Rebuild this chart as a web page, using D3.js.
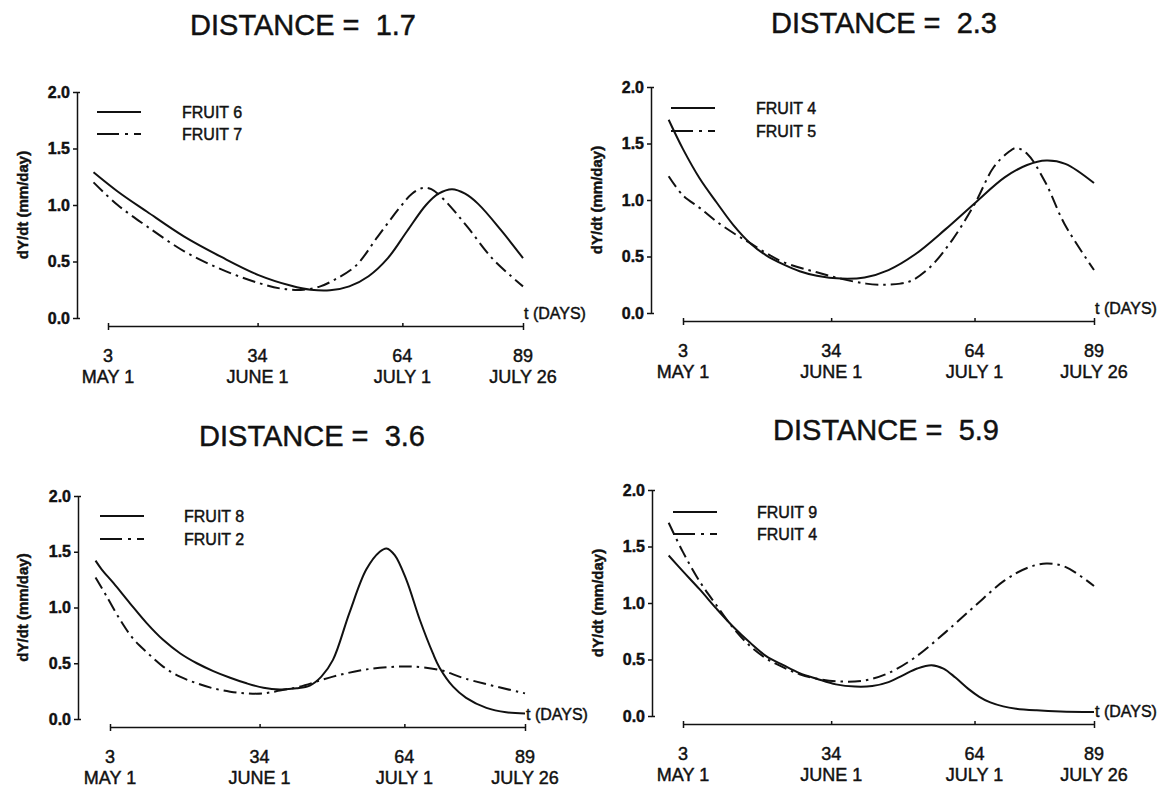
<!DOCTYPE html>
<html>
<head>
<meta charset="utf-8">
<script src="https://cdn.jsdelivr.net/npm/d3@7"></script>
<style>
  body { margin: 0; background: #fff; }
  text { font-family: "Liberation Sans", Arial, sans-serif; fill: #111; stroke: #111; stroke-width: 0.45px; }
</style>
</head>
<body>
<div id="chart"></div>
<script>
// tick values and labels
var dayTicks = [3, 34, 64, 89];
var dateLabels = ["MAY 1", "JUNE 1", "JULY 1", "JULY 26"];
var yTicks = [0, 0.5, 1.0, 1.5, 2.0];
var titles = ["DISTANCE =  1.7", "DISTANCE =  2.3", "DISTANCE =  3.6", "DISTANCE =  5.9"];

// growth rate curves, [day, dY/dt]
var fruit6 = [[0,1.29],[5,1.12],[11.1,0.94],[18.8,0.72],[26.5,0.54],[34.2,0.38],[41,0.285],[45,0.25],[49,0.245],
  [53,0.28],[57,0.37],[61,0.53],[65,0.77],[68.9,1.00],[71.5,1.10],[74.3,1.14],[77,1.10],[79.7,1.01],[84.4,0.78],[89,0.53]];
var fruit7 = [[0,1.20],[5,1.00],[11.1,0.81],[18.8,0.59],[26.5,0.43],[34.2,0.31],[38.9,0.26],[43.5,0.25],[47,0.28],
  [50,0.34],[54.3,0.46],[58.9,0.72],[63.5,0.98],[66,1.10],[68.2,1.15],[70,1.14],[72.8,1.04],[77.4,0.81],[82.8,0.52],[89,0.28]];
var fruit4 = [[0,1.71],[3,1.45],[6.5,1.19],[10,0.98],[13.5,0.78],[17,0.62],[20.4,0.51],[24,0.43],[27.4,0.37],
  [31,0.33],[36,0.305],[41,0.315],[46,0.38],[51.6,0.52],[57.9,0.74],[64,0.97],[70.3,1.20],[75,1.31],[79,1.35],
  [83,1.32],[89,1.15]];
var fruit5 = [[0,1.21],[3,1.04],[6.5,0.93],[10,0.81],[14.2,0.69],[17,0.62],[20.4,0.53],[24,0.45],[31,0.36],
  [36.4,0.30],[41.3,0.26],[45,0.25],[48.5,0.26],[51,0.29],[54.8,0.41],[59.4,0.65],[64.1,0.97],[68,1.29],
  [71,1.42],[72.7,1.46],[75,1.41],[78.9,1.15],[82.8,0.79],[89,0.38]];
var fruit8 = [[0,1.42],[1.3,1.34],[3.7,1.22],[7.1,1.04],[10.6,0.86],[14,0.71],[17.5,0.59],[21,0.50],[24.4,0.43],
  [27.9,0.37],[31.3,0.32],[34.8,0.28],[38.2,0.265],[41.7,0.275],[44.4,0.30],[46.8,0.38],[49.2,0.53],[52.6,0.95],
  [56.1,1.34],[58.9,1.50],[60.3,1.53],[62,1.47],[64.4,1.25],[67.2,0.89],[69.9,0.59],[71.3,0.46],[74.1,0.29],
  [76.8,0.19],[81,0.10],[85.1,0.06],[89,0.05]];
var fruit2 = [[0,1.27],[2.3,1.10],[5.1,0.89],[7.8,0.72],[10.6,0.60],[14,0.47],[17.5,0.38],[21,0.32],[24.4,0.275],
  [27.9,0.245],[31.3,0.23],[34.8,0.23],[38.2,0.255],[42.3,0.29],[49.2,0.38],[56.2,0.445],[63,0.47],[66,0.47],
  [71.3,0.44],[76.8,0.36],[89,0.23]];
var fruit9 = [[0,1.42],[3,1.28],[6.5,1.12],[10,0.95],[13.5,0.79],[17,0.65],[20.4,0.53],[24,0.45],[27.4,0.38],
  [31,0.33],[35,0.28],[39,0.26],[42.6,0.265],[46,0.30],[49,0.36],[52,0.42],[55,0.45],[57.5,0.42],[60,0.34],
  [62.7,0.24],[65,0.17],[67.3,0.12],[70,0.085],[72.7,0.065],[77,0.05],[82,0.04],[89,0.035]];

var panels = [
  {title: titles[0], solid: fruit6, dash: fruit7, names: ["FRUIT 6", "FRUIT 7"],
   ax: 77, x0: 108, x1: 523, y0: 318, y1: 92, xa: 326, tx: 303, ty: 35, lx: 22, leg: [97, 141, 182, 112, 134]},
  {title: titles[1], solid: fruit4, dash: fruit5, names: ["FRUIT 4", "FRUIT 5"],
   ax: 651, x0: 683, x1: 1094, y0: 313, y1: 87, xa: 321, tx: 884, ty: 33, lx: 596, leg: [671, 715, 756, 108, 131]},
  {title: titles[2], solid: fruit8, dash: fruit2, names: ["FRUIT 8", "FRUIT 2"],
   ax: 78, x0: 110, x1: 525, y0: 719, y1: 496, xa: 727, tx: 312, ty: 446, lx: 22, leg: [100, 144, 184, 516, 539]},
  {title: titles[3], solid: fruit9, dash: fruit4, names: ["FRUIT 9", "FRUIT 4"],
   ax: 652, x0: 683, x1: 1094, y0: 716, y1: 490, xa: 724, tx: 886, ty: 440, lx: 597, leg: [673, 717, 757, 512, 534]}
];

var dashCurve = "13,5,2.5,5";
var dashLegend = "22,6,3,6";

var svg = d3.select("#chart")
  .append("svg")
    .attr("width", 1166)
    .attr("height", 787);

panels.forEach(function(p) {
  var x = d3.scaleLinear().domain([3, 89]).range([p.x0, p.x1]);
  var y = d3.scaleLinear().domain([0, 2]).range([p.y0, p.y1]);

  // title
  svg.append("text")
    .attr("x", p.tx).attr("y", p.ty)
    .attr("text-anchor", "middle")
    .attr("font-size", 29)
    .style("white-space", "pre")
    .text(p.title);

  // y axis
  var gy = svg.append("g")
    .attr("transform", "translate(" + p.ax + ",0)")
    .call(d3.axisLeft(y).tickValues(yTicks).tickFormat(d3.format(".1f"))
      .tickSizeInner(4).tickSizeOuter(-3).tickPadding(3));
  gy.attr("font-family", null).attr("font-size", null);
  gy.selectAll("path, line").attr("stroke", "#111").attr("stroke-width", 1.5);
  gy.selectAll("text").attr("font-size", 16).attr("font-weight", "bold");

  svg.append("text")
    .attr("transform", "translate(" + p.lx + "," + (p.y0 + p.y1) / 2 + ") rotate(-90)")
    .attr("text-anchor", "middle")
    .attr("dominant-baseline", "central")
    .attr("font-size", 15)
    .attr("font-weight", "bold")
    .text("dY/dt (mm/day)");

  // x axis, offset below the plot
  var gx = svg.append("g")
    .attr("transform", "translate(0," + p.xa + ")")
    .call(d3.axisBottom(x).tickValues(dayTicks).tickFormat("")
      .tickSizeInner(-3).tickSizeOuter(4));
  gx.selectAll("path, line").attr("stroke", "#111").attr("stroke-width", 1.5);

  svg.append("g").selectAll("text.day")
    .data(dayTicks)
    .enter()
    .append("text")
      .attr("x", function(d) { return x(d); })
      .attr("y", p.xa + 36)
      .attr("text-anchor", "middle")
      .attr("font-size", 18)
      .text(function(d) { return d; });

  svg.append("g").selectAll("text.date")
    .data(dateLabels)
    .enter()
    .append("text")
      .attr("x", function(d, i) { return x(dayTicks[i]); })
      .attr("y", p.xa + 57)
      .attr("text-anchor", "middle")
      .attr("font-size", 18)
      .text(function(d) { return d; });

  svg.append("text")
    .attr("x", x(89) + 1).attr("y", p.y0 + 1)
    .attr("font-size", 16)
    .text("t (DAYS)");

  // curves
  var line = d3.line()
    .x(function(d) { return x(d[0]); })
    .y(function(d) { return y(d[1]); })
    .curve(d3.curveCatmullRom.alpha(0.5));

  svg.append("path")
    .datum(p.solid)
    .attr("d", line)
    .attr("fill", "none")
    .attr("stroke", "#111")
    .attr("stroke-width", 2);

  svg.append("path")
    .datum(p.dash)
    .attr("d", line)
    .attr("fill", "none")
    .attr("stroke", "#111")
    .attr("stroke-width", 2)
    .attr("stroke-dasharray", dashCurve);

  // legend
  var l = p.leg;
  svg.append("line")
    .attr("x1", l[0]).attr("x2", l[1]).attr("y1", l[3]).attr("y2", l[3])
    .attr("stroke", "#111").attr("stroke-width", 2);
  svg.append("line")
    .attr("x1", l[0]).attr("x2", l[1]).attr("y1", l[4]).attr("y2", l[4])
    .attr("stroke", "#111").attr("stroke-width", 2)
    .attr("stroke-dasharray", dashLegend);
  svg.append("g").selectAll("text")
    .data(p.names)
    .enter()
    .append("text")
      .attr("x", l[2])
      .attr("y", function(d, i) { return l[3 + i]; })
      .attr("dominant-baseline", "central")
      .attr("font-size", 16)
      .text(function(d) { return d; });
});
</script>
</body>
</html>
